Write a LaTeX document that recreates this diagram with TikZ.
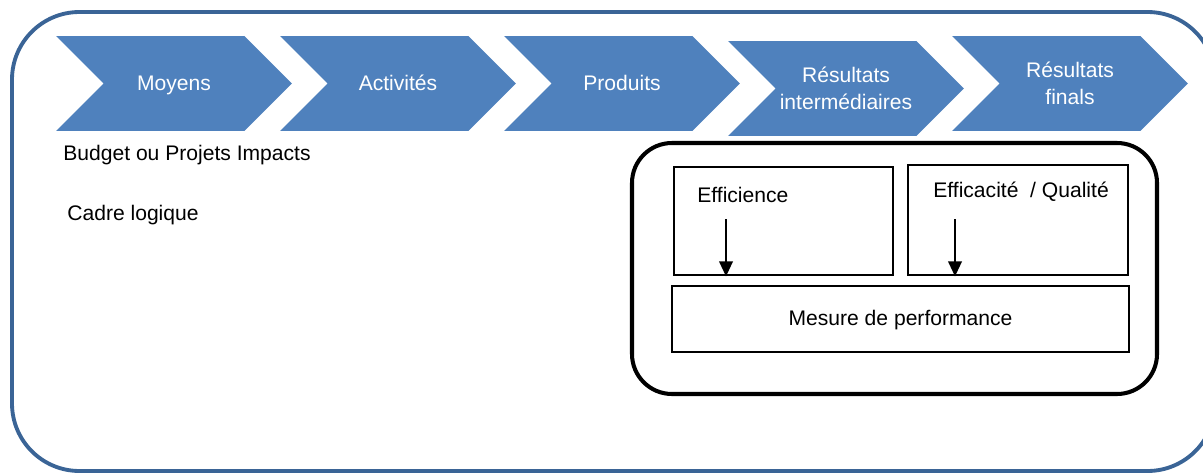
\documentclass[tikz,border=0pt]{standalone}
\usepackage{fontspec}
\setmainfont{Liberation Sans}
\usepackage{xcolor}
\usetikzlibrary{arrows.meta, positioning, shapes.symbols}
\definecolor{chevblue}{RGB}{79, 129, 189}
\definecolor{frameblue}{RGB}{58, 100, 150}

\begin{document}
\begin{tikzpicture}[
  x=0.02cm, y=0.02cm,
  chevron/.style={signal, signal from=west, signal to=east,
                  signal pointer angle=90, fill=chevblue, text=white,
                  minimum width=4.72cm, minimum height=1.9cm, inner sep=0pt,
                  align=center, font=\fontsize{12}{15.4}\selectfont},
  oneline/.style={text height=2ex, text depth=0.5ex},
  cell/.style={rectangle, draw=black, line width=1.6pt, inner sep=0pt},
  txt/.style={anchor=west, inner sep=0pt, font=\fontsize{12}{14}\selectfont},
  down/.style={line width=1.2pt, -{Triangle[length=0.3cm, width=0.27cm]}}
]
\useasboundingbox (0,0) rectangle (1203,-473);
\clip (0,0) rectangle (1203,-473);

% outer frame
\draw[frameblue, line width=2.2pt, rounded corners=1.35cm] (12,-12) rectangle (1215,-471);

% chain of stages
\node[chevron, oneline] (moyens)   at (174,-83.5)  {Moyens};
\node[chevron, oneline] (activ)    at (398,-83.5)  {Activités};
\node[chevron, oneline] (produits) at (622,-83.5)  {Produits};
\node[chevron] (resinter) at (846,-88.5)  {Résultats\\intermédiaires};
\node[chevron] (resfin)   at (1070,-83.5) {Résultats\\finals};

\node[txt] (budget) at (63,-155) {Budget ou Projets Impacts};
\node[txt] (cadre)  at (67,-215) {Cadre logique};

% performance block
\draw[black, line width=2.3pt, rounded corners=0.8cm] (632,-143) rectangle (1157,-394);
\node[cell, minimum width=4.38cm, minimum height=2.16cm] (effbox) at (783.5,-221) {};
\node[cell, minimum width=4.4cm, minimum height=2.2cm]   (qualbox) at (1018,-220) {};
\node[cell, oneline, minimum width=9.14cm, minimum height=1.32cm, font=\fontsize{12}{14}\selectfont]
  (mesure) at (900.5,-319) {Mesure de performance};

\node[txt] (efftxt)  at (697,-195) {Efficience};
\node[txt] (qualtxt) at (933,-192) {Efficacité\ \ /\ Qualité};

\coordinate (effstart)  at (726,-219);
\coordinate (qualstart) at (955,-219);
\draw[down] (effstart) -- (effstart |- effbox.south);
\draw[down] (qualstart) -- (qualstart |- qualbox.south);
\end{tikzpicture}
\end{document}
